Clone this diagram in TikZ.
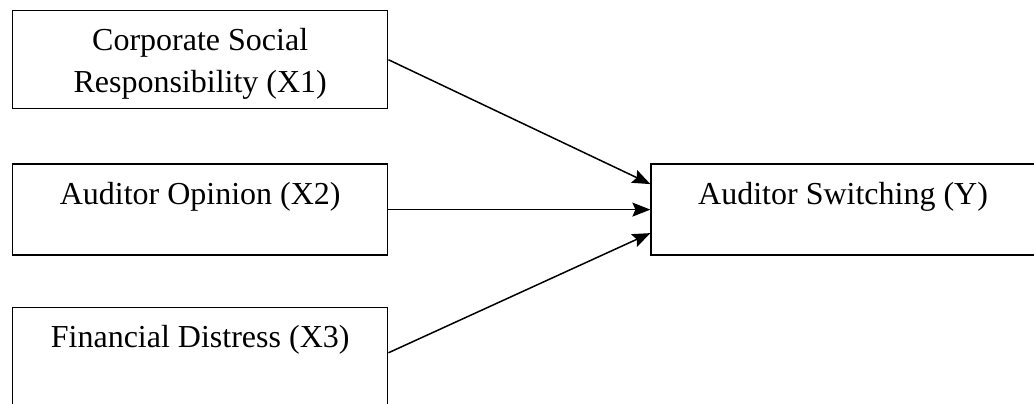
\documentclass[tikz,border=0pt]{standalone}
\usepackage{fontspec}
\setmainfont{Liberation Serif}
\usepackage{tikz}
\usetikzlibrary{positioning,arrows.meta}

\begin{document}
\begin{tikzpicture}[
    box/.style={draw, line width=0.7pt, inner xsep=0pt, inner ysep=0pt,
      minimum width=187.5pt, text height=20pt, align=center,
      font=\fontsize{16}{21}\selectfont},
    arr/.style={line width=0.75pt, -{Stealth[length=9pt,width=7pt,inset=1.5pt]}}
  ]
              \clip (0,0) rectangle (517pt,-201.5pt);

              \node[box, anchor=north west, text height=41pt, text depth=8pt] (x1) at (6pt,-5pt) {Corporate Social\\Responsibility (X1)};
              \node[box, below=27pt of x1, text depth=25.5pt] (x2) {Auditor Opinion (X2)};
              \node[box, below=25.5pt of x2, text depth=40pt] (x3) {Financial Distress (X3)};
              \node[box, right=131pt of x2, minimum width=192pt, text depth=25.5pt] (y) {Auditor Switching (Y)};

              %x>y
              \draw[arr] (x1.east) -- ([yshift=12.75pt]y.west);
              \draw[arr] (x2.east) -- (y.west);
              \draw[arr] ([yshift=-23pt]x3.north east) -- ([yshift=-11.75pt]y.west);

            \end{tikzpicture}
\end{document}
